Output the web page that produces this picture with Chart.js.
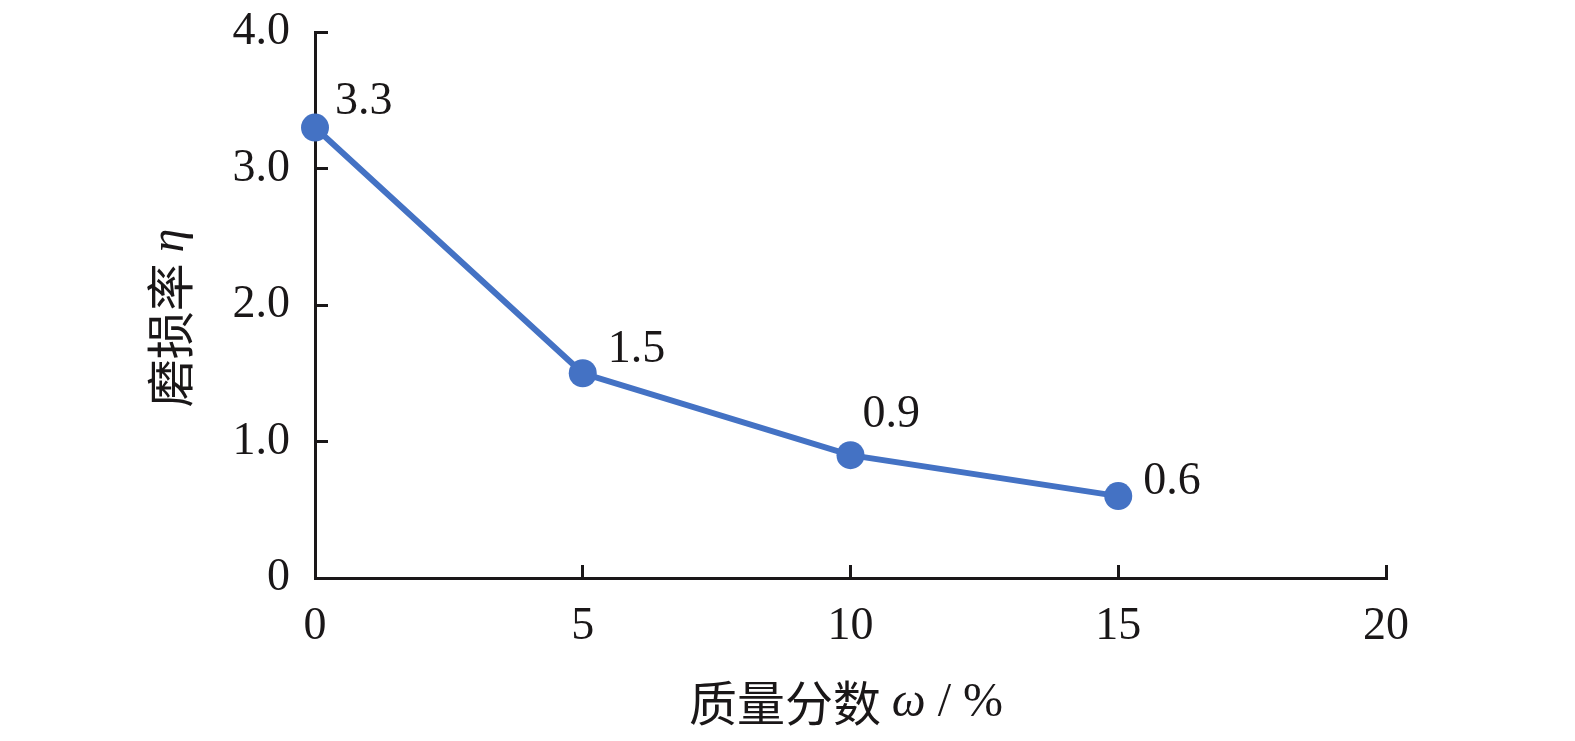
<!DOCTYPE html>
<html>
<head>
<meta charset="utf-8">
<script src="https://cdn.jsdelivr.net/npm/chart.js@4/dist/chart.umd.min.js"></script>
<style>
  html, body { margin: 0; padding: 0; background: #fff; }
  #wrap { width: 1575px; height: 741px; position: relative; }
</style>
</head>
<body>
<div id="wrap"><canvas id="wearChart"></canvas></div>
<script>
// data
const massFraction = [0, 5, 10, 15];
const wearRate = [3.3, 1.5, 0.9, 0.6];
const xTicks = [0, 5, 10, 15, 20];
const yTicks = [0, 1, 2, 3, 4];
const yTickLabels = ['0', '1.0', '2.0', '3.0', '4.0'];

// label placement relative to each point (px)
const labelOffsets = [[20, -26], [25, -23], [12, -40], [25, -14]];

const serif = '"Liberation Serif", "Times New Roman", serif';
const cjk = '"Noto Sans CJK SC", sans-serif';
const ink = '#1a1718';
const blue = '#4472c4';

const pointLabels = {
  id: 'pointLabels',
  afterDatasetsDraw(chart) {
    const ctx = chart.ctx;
    const meta = chart.getDatasetMeta(0);
    ctx.save();
    ctx.font = '46px ' + serif;
    ctx.fillStyle = ink;
    ctx.textAlign = 'left';
    ctx.textBaseline = 'middle';
    meta.data.forEach((pt, i) => {
      const off = labelOffsets[i];
      ctx.fillText(wearRate[i].toFixed(1), pt.x + off[0], pt.y + off[1]);
    });
    ctx.restore();
  }
};

// axis titles mix a CJK font with italic greek letters
function drawParts(ctx, parts, cx, cy) {
  let total = 0;
  parts.forEach(p => { ctx.font = p.font; p.w = ctx.measureText(p.text).width; total += p.w; });
  let x = cx - total / 2;
  parts.forEach(p => { ctx.font = p.font; ctx.fillText(p.text, x, cy); x += p.w; });
}

const axisTitles = {
  id: 'axisTitles',
  afterDraw(chart) {
    const ctx = chart.ctx;
    ctx.save();
    ctx.fillStyle = ink;
    ctx.textAlign = 'left';
    ctx.textBaseline = 'middle';
    drawParts(ctx, [
      { text: '质量分数 ', font: '48px ' + cjk },
      { text: 'ω', font: 'italic 48px ' + serif },
      { text: ' / %', font: '48px ' + serif }
    ], 846, 703);

    ctx.translate(170, 318);
    ctx.rotate(-Math.PI / 2);
    drawParts(ctx, [
      { text: '磨损率 ', font: '48px ' + cjk },
      { text: 'η', font: 'italic 48px ' + serif }
    ], 0, 0);
    ctx.restore();
  }
};

new Chart(document.getElementById('wearChart'), {
  type: 'line',
  data: {
    datasets: [{
      data: massFraction.map((x, i) => ({ x: x, y: wearRate[i] })),
      borderColor: blue,
      backgroundColor: blue,
      borderWidth: 6,
      pointRadius: 14,
      pointHoverRadius: 14,
      pointBorderWidth: 0,
      tension: 0,
      clip: false
    }]
  },
  options: {
    responsive: true,
    maintainAspectRatio: false,
    animation: false,
    layout: { padding: { top: 32, right: 189, left: 0, bottom: 0 } },
    plugins: { legend: { display: false }, tooltip: { enabled: false } },
    scales: {
      x: {
        type: 'linear',
        min: 0,
        max: 20,
        afterBuildTicks: axis => { axis.ticks = xTicks.map(v => ({ value: v })); },
        afterFit: axis => {
          axis.height = 163;
          axis.paddingLeft = 0;
          axis.paddingRight = 0;
        },
        grid: { drawOnChartArea: false, tickLength: -13, tickWidth: 3, tickColor: ink },
        border: { color: ink, width: 3 },
        ticks: {
          padding: 34,
          color: ink,
          font: { family: serif, size: 46 },
          maxRotation: 0
        }
      },
      y: {
        min: 0,
        max: 4,
        afterBuildTicks: axis => { axis.ticks = yTicks.map(v => ({ value: v })); },
        afterFit: axis => {
          axis.width = 315;
          axis.paddingTop = 0;
          axis.paddingBottom = 0;
        },
        grid: { drawOnChartArea: false, tickLength: -13, tickWidth: 3, tickColor: ink },
        border: { color: ink, width: 3 },
        ticks: {
          padding: 38,
          color: ink,
          font: { family: serif, size: 46 },
          callback: v => yTickLabels[yTicks.indexOf(v)]
        }
      }
    }
  },
  plugins: [pointLabels, axisTitles]
});
</script>
</body>
</html>
